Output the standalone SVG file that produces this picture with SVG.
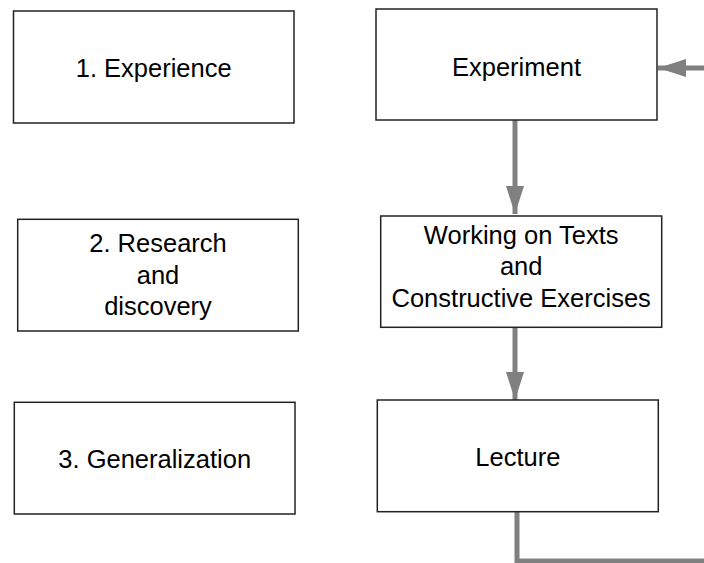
<svg xmlns="http://www.w3.org/2000/svg" width="704" height="563" viewBox="0 0 704 563">
<defs>
<style>
.box{fill:#fff;stroke:#222;stroke-width:1.5}
.t{font-family:"Liberation Sans",Arial,Helvetica,sans-serif;font-size:25.5px;fill:#000;text-anchor:middle}
.c{fill:none;stroke:#808080;stroke-width:5}
</style>
<marker id="ah" markerUnits="userSpaceOnUse" markerWidth="28" markerHeight="20" refX="28" refY="9" orient="auto" viewBox="0 0 28 18">
<path d="M0,0 L28,9 L0,18 Z" fill="#808080"/>
</marker>
</defs>
<rect width="704" height="563" fill="#fff"/>
<g id="connectors">
<line class="c" x1="515" y1="120" x2="515" y2="214" marker-end="url(#ah)"/>
<line class="c" x1="515" y1="327" x2="515" y2="400" marker-end="url(#ah)"/>
<path class="c" d="M517,512 L517,561 L720,561 L720,68"/>
<line class="c" x1="720" y1="68" x2="658" y2="68" marker-end="url(#ah)"/>
</g>
<g id="n1">
<rect class="box" x="13.5" y="11" width="280.5" height="112"/>
<text class="t" x="153.7" y="77">1. Experience</text>
</g>
<g id="n2">
<rect class="box" x="17.7" y="219.3" width="280.6" height="111.7"/>
<text class="t" x="158" y="252">2. Research</text>
<text class="t" x="158" y="283.5">and</text>
<text class="t" x="158" y="315">discovery</text>
</g>
<g id="n3">
<rect class="box" x="14.3" y="402.3" width="280.7" height="111.7"/>
<text class="t" x="154.7" y="468">3. Generalization</text>
</g>
<g id="experiment">
<rect class="box" x="376" y="9" width="281" height="111"/>
<text class="t" x="516.5" y="76">Experiment</text>
</g>
<g id="working">
<rect class="box" x="380.7" y="216" width="281" height="111.3"/>
<text class="t" x="521.2" y="243.5">Working on Texts</text>
<text class="t" x="521.2" y="275">and</text>
<text class="t" x="521.2" y="306.7">Constructive Exercises</text>
</g>
<g id="lecture">
<rect class="box" x="377.3" y="400" width="281" height="111.7"/>
<text class="t" x="517.8" y="466">Lecture</text>
</g>
</svg>
